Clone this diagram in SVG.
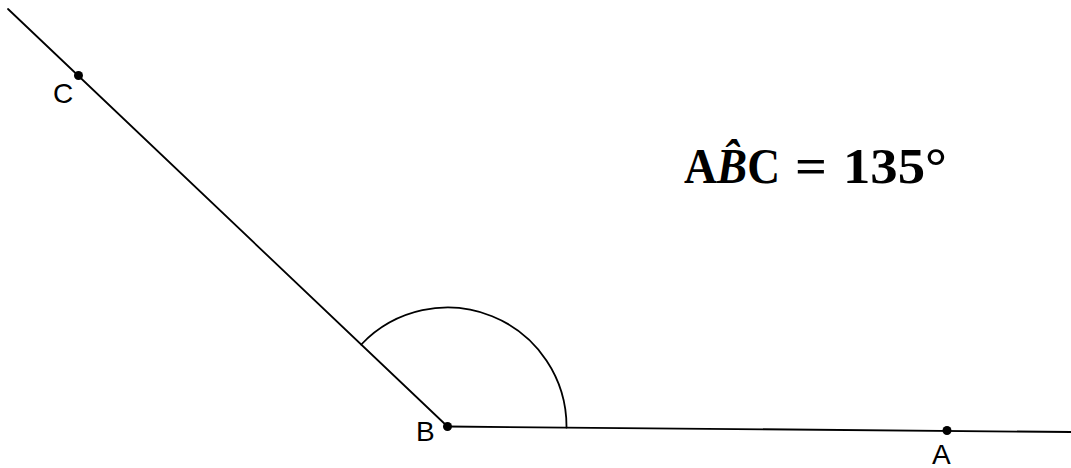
<svg xmlns="http://www.w3.org/2000/svg" width="1071" height="468" viewBox="0 0 1071 468">
<style>
.ln{stroke:#000;stroke-width:1.8;fill:none;stroke-linecap:round}
.pt{fill:#000}
.lbl{font-family:"Liberation Sans",Arial,sans-serif;font-size:28px;fill:#000}
.eq{font-family:"Liberation Serif","DejaVu Serif",serif;font-weight:bold;font-size:50px;fill:#000}
</style>
<rect width="1071" height="468" fill="#fff"/>
<g id="connectors">
<line class="ln" x1="8" y1="9" x2="447.5" y2="426.5"/>
<line class="ln" x1="447.5" y1="426.5" x2="1071" y2="432"/>
<path class="ln" d="M361.3,344.5 A119,119 0 0 1 566.5,427.5"/>
</g>
<g id="C"><circle class="pt" cx="78.5" cy="75.5" r="4.5"/><text class="lbl" x="53" y="103">C</text></g>
<g id="B"><circle class="pt" cx="447.5" cy="426.5" r="4.5"/><text class="lbl" x="416" y="441">B</text></g>
<g id="A"><circle class="pt" cx="947" cy="430.5" r="4.5"/><text class="lbl" x="932" y="464">A</text></g>
<g id="formula">
<text class="eq" x="684" y="183" textLength="96" lengthAdjust="spacingAndGlyphs">A<tspan font-style="italic">B̂</tspan>C</text>
<text class="eq" x="795" y="183" textLength="32" lengthAdjust="spacingAndGlyphs">=</text>
<text class="eq" x="843" y="183" textLength="104" lengthAdjust="spacingAndGlyphs">135°</text>
</g>
</svg>
